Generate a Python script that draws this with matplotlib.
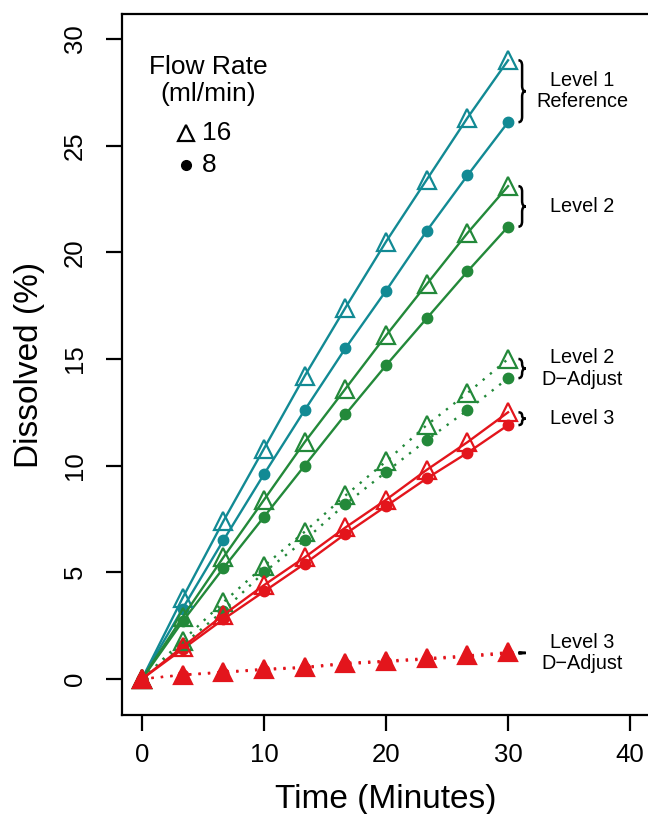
import matplotlib.pyplot as plt
import numpy as np
from matplotlib.path import Path
from matplotlib.patches import PathPatch

plt.rcParams['font.family'] = ['Liberation Sans', 'DejaVu Sans']

# --- datos ---
tiempo = [0, 3.33, 6.67, 10, 13.33, 16.67, 20, 23.33, 26.67, 30]

nivel1_16 = [0, 3.8, 7.4, 10.8, 14.2, 17.4, 20.5, 23.4, 26.3, 29.0]
nivel1_8 = [0, 3.3, 6.5, 9.6, 12.6, 15.5, 18.2, 21.0, 23.6, 26.1]
nivel2_16 = [0, 2.9, 5.7, 8.4, 11.1, 13.6, 16.1, 18.5, 20.9, 23.1]
nivel2_8 = [0, 2.7, 5.2, 7.6, 10.0, 12.4, 14.7, 16.9, 19.1, 21.2]
nivel2d_16 = [0, 1.8, 3.6, 5.3, 6.9, 8.6, 10.2, 11.9, 13.4, 15.0]
nivel2d_8 = [0, 1.6, 3.2, 5.0, 6.5, 8.2, 9.7, 11.2, 12.6, 14.1]
nivel3_16 = [0, 1.5, 3.0, 4.4, 5.7, 7.1, 8.4, 9.8, 11.1, 12.5]
nivel3_8 = [0, 1.4, 2.8, 4.1, 5.4, 6.8, 8.1, 9.4, 10.6, 11.9]
nivel3d_16 = [0, 0.2, 0.33, 0.47, 0.56, 0.75, 0.85, 0.97, 1.1, 1.25]
nivel3d_8 = [0, 0.18, 0.3, 0.43, 0.52, 0.7, 0.8, 0.92, 1.04, 1.19]

etiquetas = ['Level 1\nReference', 'Level 2', 'Level 2\nD\u2212Adjust', 'Level 3', 'Level 3\nD\u2212Adjust']

TEAL = '#128A94'
VERDE = '#23893A'
ROJO = '#E3151C'

fig = plt.figure(figsize=(6.48, 8.14), dpi=100)
ax = fig.add_axes([0.189, 0.1216, 0.8135, 0.8612])

series = [
    (nivel1_16, nivel1_8, TEAL, '-'),
    (nivel2_16, nivel2_8, VERDE, '-'),
    (nivel2d_16, nivel2d_8, VERDE, (0, (1, 3))),
    (nivel3_16, nivel3_8, ROJO, '-'),
    (nivel3d_16, nivel3d_8, ROJO, (0, (1, 3))),
]

for i, (s16, s8, col, ls) in enumerate(series):
    ax.plot(tiempo, s8, color=col, ls=ls, lw=1.7, marker='o', ms=7.5,
            mfc=col, mec=col, zorder=3)
    relleno = col if i == 4 else 'none'
    ax.plot(tiempo, s16, color=col, ls=ls, lw=1.7, marker='^', ms=13,
            mfc=relleno, mec=col, mew=1.6, zorder=4)


def llave(ax, x0, y_top, y_bot, w=0.6, r_max=0.25):
    # dibuja una llave "}" entre y_top y y_bot
    mid = (y_top + y_bot) / 2
    h = (y_top - y_bot) / 2
    r = min(r_max, h / 2) if h > 0 else 0.02
    xm = x0 + w / 2
    verts = [(x0, y_top), (xm, y_top), (xm, y_top - r),
             (xm, mid + r), (xm, mid), (x0 + w, mid),
             (xm, mid), (xm, mid - r),
             (xm, y_bot + r), (xm, y_bot), (x0, y_bot)]
    codes = [Path.MOVETO, Path.CURVE3, Path.CURVE3,
             Path.LINETO, Path.CURVE3, Path.CURVE3,
             Path.CURVE3, Path.CURVE3,
             Path.LINETO, Path.CURVE3, Path.CURVE3]
    ax.add_patch(PathPatch(Path(verts, codes), fill=False, lw=1.8,
                           color='black', clip_on=False))


for (s16, s8, col, ls), txt in zip(series, etiquetas):
    llave(ax, 30.85, s16[-1], s8[-1])
    ax.text(36.1, (s16[-1] + s8[-1]) / 2, txt, ha='center', va='center',
            fontsize=14.3, linespacing=1.15)

# leyenda manual
ax.text(5.4, 28.05, 'Flow Rate\n(ml/min)', ha='center', va='center',
        fontsize=19, linespacing=1.2)
ax.plot([3.6], [25.6], marker='^', ms=11, mfc='none', mec='black', mew=1.6)
ax.plot([3.6], [24.1], marker='o', ms=7, color='black')
ax.text(4.9, 25.6, '16', ha='left', va='center', fontsize=19)
ax.text(4.9, 24.1, '8', ha='left', va='center', fontsize=19)

ax.set_xlim(-1.6, 41.6)
ax.set_ylim(-1.69, 31.17)
ax.set_xticks([0, 10, 20, 30, 40])
ax.set_yticks([0, 5, 10, 15, 20, 25, 30])
ax.tick_params(length=11.5, width=1.6, labelsize=18.5)
ax.tick_params(axis='x', pad=9)
ax.tick_params(axis='y', pad=14)
plt.setp(ax.get_yticklabels(), rotation=90, va='center')
for sp in ax.spines.values():
    sp.set_linewidth(1.6)

ax.set_xlabel('Time (Minutes)', fontsize=24, va='center')
ax.set_ylabel('Dissolved (%)', fontsize=24, va='center')
ax.xaxis.set_label_coords(0.5, -0.121)
ax.yaxis.set_label_coords(-0.1755, 0.5)

fig.savefig('out.png', dpi=100)
